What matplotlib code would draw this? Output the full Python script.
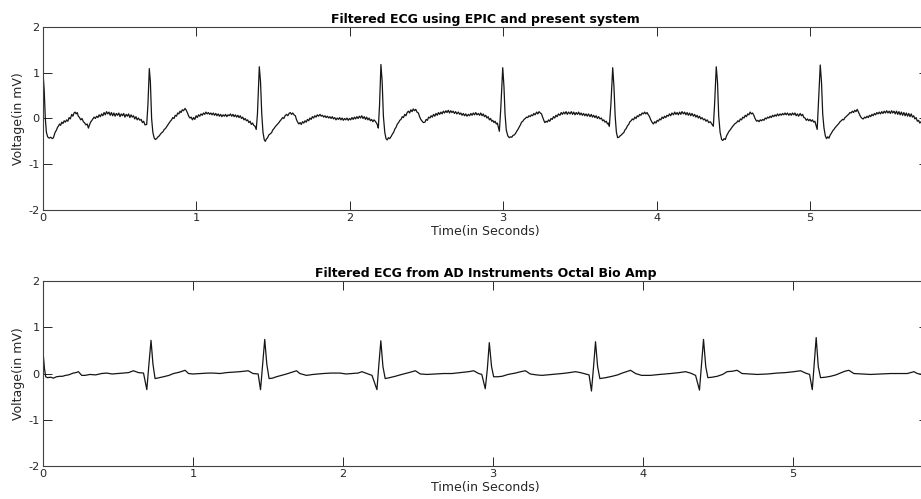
import numpy as np
import matplotlib
matplotlib.use("Agg")
import matplotlib.pyplot as plt

# ECG, (time s, voltage mV) pairs
top_time = [
    0.000, 0.008, 0.015, 0.022, 0.030, 0.040, 0.050, 0.060, 0.068, 0.078, 0.088, 0.095,
    0.100, 0.108, 0.115, 0.122, 0.130, 0.138, 0.146, 0.154, 0.162, 0.170, 0.178, 0.187,
    0.195, 0.202, 0.209, 0.216, 0.223, 0.230, 0.238, 0.246, 0.254, 0.263, 0.272, 0.280,
    0.288, 0.296, 0.303, 0.310, 0.317, 0.325, 0.333, 0.341, 0.350, 0.358, 0.366, 0.374,
    0.382, 0.390, 0.398, 0.406, 0.414, 0.422, 0.430, 0.438, 0.446, 0.454, 0.462, 0.470,
    0.478, 0.486, 0.494, 0.502, 0.510, 0.518, 0.526, 0.534, 0.542, 0.550, 0.558, 0.566,
    0.574, 0.582, 0.590, 0.598, 0.606, 0.614, 0.622, 0.632, 0.640, 0.648, 0.656, 0.665,
    0.676, 0.684, 0.693, 0.700, 0.708, 0.716, 0.724, 0.732, 0.741, 0.750, 0.758, 0.766,
    0.774, 0.782, 0.790, 0.798, 0.806, 0.814, 0.822, 0.830, 0.838, 0.846, 0.854, 0.862,
    0.870, 0.878, 0.886, 0.893, 0.900, 0.908, 0.916, 0.926, 0.934, 0.942, 0.950, 0.958,
    0.966, 0.974, 0.982, 0.990, 0.998, 1.006, 1.014, 1.022, 1.030, 1.038, 1.046, 1.054,
    1.062, 1.070, 1.078, 1.086, 1.094, 1.102, 1.110, 1.118, 1.126, 1.134, 1.142, 1.150,
    1.158, 1.166, 1.174, 1.182, 1.190, 1.198, 1.206, 1.214, 1.222, 1.230, 1.238, 1.246,
    1.254, 1.262, 1.270, 1.278, 1.286, 1.294, 1.302, 1.310, 1.318, 1.326, 1.334, 1.342,
    1.350, 1.358, 1.366, 1.374, 1.382, 1.390, 1.398, 1.410, 1.418, 1.426, 1.434, 1.442,
    1.449, 1.456, 1.464, 1.472, 1.480, 1.490, 1.498, 1.506, 1.514, 1.522, 1.530, 1.538,
    1.546, 1.554, 1.562, 1.570, 1.578, 1.588, 1.596, 1.604, 1.612, 1.620, 1.628, 1.636,
    1.645, 1.652, 1.660, 1.668, 1.676, 1.684, 1.692, 1.700, 1.708, 1.716, 1.724, 1.732,
    1.740, 1.748, 1.756, 1.764, 1.772, 1.780, 1.788, 1.796, 1.806, 1.814, 1.822, 1.830,
    1.838, 1.846, 1.854, 1.862, 1.870, 1.878, 1.886, 1.894, 1.902, 1.910, 1.918, 1.926,
    1.934, 1.942, 1.950, 1.958, 1.966, 1.974, 1.982, 1.990, 1.998, 2.006, 2.014, 2.022,
    2.030, 2.038, 2.046, 2.054, 2.062, 2.070, 2.078, 2.086, 2.094, 2.102, 2.110, 2.118,
    2.126, 2.134, 2.142, 2.150, 2.158, 2.166, 2.174, 2.180, 2.186, 2.194, 2.203, 2.211,
    2.219, 2.228, 2.236, 2.244, 2.252, 2.260, 2.270, 2.278, 2.286, 2.294, 2.302, 2.310,
    2.318, 2.326, 2.334, 2.342, 2.350, 2.358, 2.366, 2.374, 2.382, 2.390, 2.398, 2.406,
    2.414, 2.422, 2.430, 2.438, 2.447, 2.455, 2.463, 2.472, 2.480, 2.490, 2.498, 2.506,
    2.514, 2.522, 2.530, 2.538, 2.546, 2.554, 2.562, 2.570, 2.578, 2.586, 2.594, 2.602,
    2.610, 2.618, 2.626, 2.634, 2.642, 2.650, 2.658, 2.666, 2.674, 2.682, 2.690, 2.698,
    2.708, 2.716, 2.724, 2.732, 2.740, 2.748, 2.756, 2.764, 2.773, 2.781, 2.789, 2.797,
    2.805, 2.813, 2.821, 2.829, 2.838, 2.846, 2.854, 2.862, 2.870, 2.878, 2.886, 2.894,
    2.902, 2.910, 2.918, 2.925, 2.932, 2.940, 2.947, 2.955, 2.962, 2.968, 2.975, 2.984,
    2.997, 3.005, 3.012, 3.020, 3.030, 3.040, 3.048, 3.056, 3.064, 3.072, 3.080, 3.088,
    3.096, 3.104, 3.112, 3.120, 3.128, 3.136, 3.144, 3.152, 3.160, 3.168, 3.176, 3.184,
    3.192, 3.200, 3.208, 3.218, 3.226, 3.234, 3.242, 3.250, 3.258, 3.266, 3.272, 3.280,
    3.288, 3.296, 3.304, 3.312, 3.320, 3.328, 3.336, 3.344, 3.352, 3.360, 3.370, 3.378,
    3.386, 3.394, 3.402, 3.410, 3.418, 3.426, 3.436, 3.444, 3.452, 3.460, 3.468, 3.476,
    3.484, 3.492, 3.500, 3.508, 3.516, 3.524, 3.532, 3.540, 3.548, 3.556, 3.566, 3.574,
    3.582, 3.590, 3.598, 3.606, 3.614, 3.622, 3.631, 3.640, 3.648, 3.656, 3.664, 3.672,
    3.680, 3.686, 3.692, 3.702, 3.714, 3.722, 3.730, 3.738, 3.746, 3.754, 3.762, 3.770,
    3.778, 3.786, 3.794, 3.802, 3.810, 3.818, 3.826, 3.834, 3.842, 3.850, 3.858, 3.866,
    3.874, 3.882, 3.890, 3.898, 3.906, 3.914, 3.922, 3.930, 3.938, 3.946, 3.954, 3.962,
    3.970, 3.979, 3.988, 3.996, 4.004, 4.012, 4.020, 4.028, 4.036, 4.044, 4.052, 4.060,
    4.068, 4.076, 4.084, 4.092, 4.100, 4.110, 4.118, 4.126, 4.134, 4.142, 4.150, 4.158,
    4.166, 4.175, 4.183, 4.191, 4.199, 4.207, 4.215, 4.223, 4.231, 4.240, 4.248, 4.256,
    4.264, 4.272, 4.280, 4.288, 4.296, 4.306, 4.314, 4.322, 4.330, 4.340, 4.350, 4.360,
    4.370, 4.378, 4.389, 4.397, 4.405, 4.414, 4.424, 4.432, 4.440, 4.448, 4.456, 4.464,
    4.472, 4.480, 4.488, 4.496, 4.504, 4.512, 4.522, 4.530, 4.538, 4.546, 4.554, 4.562,
    4.570, 4.578, 4.586, 4.594, 4.602, 4.610, 4.618, 4.626, 4.634, 4.642, 4.652, 4.660,
    4.668, 4.676, 4.684, 4.692, 4.700, 4.708, 4.716, 4.724, 4.732, 4.740, 4.748, 4.756,
    4.764, 4.772, 4.780, 4.788, 4.796, 4.805, 4.813, 4.821, 4.829, 4.837, 4.845, 4.853,
    4.862, 4.870, 4.878, 4.886, 4.894, 4.902, 4.910, 4.918, 4.926, 4.936, 4.944, 4.952,
    4.960, 4.968, 4.976, 4.984, 4.992, 5.000, 5.008, 5.016, 5.024, 5.032, 5.040, 5.047,
    5.056, 5.067, 5.075, 5.083, 5.091, 5.100, 5.108, 5.116, 5.124, 5.132, 5.140, 5.148,
    5.156, 5.164, 5.172, 5.180, 5.188, 5.196, 5.204, 5.212, 5.220, 5.228, 5.236, 5.244,
    5.252, 5.260, 5.268, 5.276, 5.284, 5.292, 5.300, 5.308, 5.316, 5.324, 5.332, 5.340,
    5.348, 5.356, 5.364, 5.372, 5.380, 5.388, 5.396, 5.404, 5.412, 5.420, 5.428, 5.436,
    5.444, 5.452, 5.460, 5.468, 5.476, 5.484, 5.492, 5.500, 5.508, 5.516, 5.524, 5.532,
    5.540, 5.548, 5.556, 5.564, 5.572, 5.580, 5.588, 5.596, 5.604, 5.612, 5.620, 5.628,
    5.636, 5.644, 5.652, 5.660, 5.668, 5.676, 5.684, 5.692, 5.700, 5.708, 5.716, 5.724,
    5.732, 5.740, 5.760, 5.800,
]
top_volt = [
    1.00, 0.60, 0.00, -0.30, -0.40, -0.43, -0.41, -0.44, -0.42, -0.31, -0.25, -0.19,
    -0.17, -0.12, -0.15, -0.08, -0.11, -0.05, -0.08, -0.03, -0.06, 0.02, -0.01, 0.09,
    0.05, 0.12, 0.14, 0.10, 0.13, 0.05, 0.02, -0.03, 0.00, -0.07, -0.10, -0.14,
    -0.12, -0.21, -0.14, -0.08, -0.05, -0.01, 0.03, 0.00, 0.05, 0.02, 0.08, 0.04,
    0.10, 0.06, 0.13, 0.08, 0.15, 0.10, 0.14, 0.07, 0.13, 0.06, 0.12, 0.05,
    0.11, 0.07, 0.12, 0.04, 0.10, 0.06, 0.11, 0.03, 0.09, 0.05, 0.10, 0.02,
    0.08, 0.03, 0.06, -0.01, 0.04, -0.03, 0.01, -0.04, -0.02, -0.09, -0.06, -0.14,
    -0.13, 0.30, 1.09, 0.80, 0.00, -0.30, -0.42, -0.46, -0.44, -0.40, -0.38, -0.34,
    -0.31, -0.29, -0.24, -0.22, -0.18, -0.14, -0.10, -0.06, -0.03, 0.02, 0.00, 0.07,
    0.05, 0.12, 0.10, 0.16, 0.13, 0.19, 0.17, 0.22, 0.18, 0.12, 0.05, 0.01,
    0.03, -0.03, 0.02, -0.02, 0.06, 0.02, 0.08, 0.05, 0.10, 0.07, 0.12, 0.09,
    0.14, 0.10, 0.13, 0.09, 0.12, 0.08, 0.12, 0.07, 0.11, 0.06, 0.10, 0.05,
    0.09, 0.04, 0.08, 0.05, 0.09, 0.04, 0.08, 0.06, 0.10, 0.05, 0.09, 0.04,
    0.08, 0.03, 0.07, 0.02, 0.06, 0.00, 0.03, -0.03, 0.00, -0.05, -0.03, -0.09,
    -0.06, -0.13, -0.10, -0.15, -0.17, -0.24, 0.10, 1.13, 0.80, 0.10, -0.30, -0.46,
    -0.50, -0.45, -0.42, -0.36, -0.34, -0.31, -0.25, -0.22, -0.18, -0.15, -0.12, -0.09,
    -0.05, -0.02, 0.02, 0.00, 0.06, 0.09, 0.06, 0.11, 0.13, 0.09, 0.12, 0.08,
    0.06, -0.02, -0.08, -0.12, -0.09, -0.13, -0.07, -0.10, -0.05, -0.08, -0.02, -0.05,
    0.01, -0.02, 0.04, 0.01, 0.06, 0.03, 0.08, 0.05, 0.09, 0.05, 0.07, 0.03,
    0.06, 0.02, 0.05, 0.01, 0.04, 0.00, 0.04, -0.01, 0.02, -0.03, 0.01, -0.02,
    0.02, -0.03, 0.01, -0.04, 0.00, -0.03, 0.01, -0.04, 0.00, -0.03, 0.02, -0.02,
    0.03, -0.01, 0.04, 0.00, 0.05, 0.01, 0.06, 0.00, 0.04, -0.02, 0.03, -0.03,
    0.01, -0.05, -0.02, -0.07, -0.03, -0.06, -0.10, -0.14, -0.21, 0.30, 1.18, 0.80,
    0.05, -0.30, -0.44, -0.47, -0.42, -0.44, -0.39, -0.34, -0.30, -0.23, -0.19, -0.12,
    -0.09, -0.04, -0.02, 0.04, 0.02, 0.09, 0.06, 0.13, 0.16, 0.12, 0.19, 0.15,
    0.21, 0.17, 0.20, 0.14, 0.12, 0.04, -0.02, -0.06, -0.09, -0.08, -0.02, -0.04,
    0.03, 0.01, 0.06, 0.03, 0.09, 0.05, 0.11, 0.07, 0.13, 0.09, 0.14, 0.10,
    0.16, 0.12, 0.17, 0.13, 0.18, 0.12, 0.17, 0.13, 0.16, 0.11, 0.15, 0.10,
    0.14, 0.09, 0.12, 0.07, 0.11, 0.06, 0.10, 0.05, 0.09, 0.06, 0.11, 0.07,
    0.12, 0.08, 0.13, 0.08, 0.11, 0.07, 0.12, 0.06, 0.10, 0.04, 0.07, 0.01,
    0.04, -0.03, 0.00, -0.06, -0.04, -0.09, -0.06, -0.12, -0.10, -0.18, -0.28, 0.20,
    1.11, 0.70, 0.10, -0.25, -0.38, -0.42, -0.40, -0.41, -0.37, -0.36, -0.33, -0.28,
    -0.24, -0.19, -0.14, -0.08, -0.06, -0.02, 0.00, 0.03, 0.02, 0.06, 0.04, 0.08,
    0.06, 0.11, 0.08, 0.14, 0.10, 0.15, 0.12, 0.10, 0.02, -0.05, -0.09, -0.06,
    -0.08, -0.03, -0.06, 0.00, -0.02, 0.04, 0.01, 0.07, 0.04, 0.10, 0.07, 0.13,
    0.09, 0.14, 0.10, 0.15, 0.09, 0.14, 0.10, 0.15, 0.09, 0.14, 0.08, 0.13,
    0.09, 0.14, 0.08, 0.12, 0.07, 0.11, 0.06, 0.10, 0.05, 0.10, 0.04, 0.09,
    0.03, 0.07, 0.02, 0.06, 0.00, 0.04, -0.01, 0.01, -0.05, -0.03, -0.08, -0.06,
    -0.12, -0.10, -0.17, 0.30, 1.11, 0.70, 0.05, -0.30, -0.42, -0.41, -0.38, -0.36,
    -0.33, -0.31, -0.25, -0.22, -0.16, -0.13, -0.07, -0.05, -0.01, -0.03, 0.03, 0.00,
    0.06, 0.04, 0.09, 0.07, 0.12, 0.10, 0.14, 0.10, 0.13, 0.08, 0.04, -0.03,
    -0.08, -0.12, -0.07, -0.10, -0.04, -0.06, -0.01, -0.03, 0.03, 0.00, 0.05, 0.02,
    0.07, 0.05, 0.10, 0.06, 0.12, 0.08, 0.14, 0.09, 0.13, 0.08, 0.14, 0.09,
    0.15, 0.10, 0.14, 0.08, 0.13, 0.07, 0.12, 0.06, 0.11, 0.05, 0.09, 0.03,
    0.07, 0.01, 0.05, -0.01, 0.02, -0.03, -0.01, -0.06, -0.03, -0.09, -0.07, -0.12,
    -0.17, 0.30, 1.13, 0.80, 0.05, -0.30, -0.46, -0.48, -0.44, -0.46, -0.38, -0.33,
    -0.28, -0.25, -0.21, -0.17, -0.14, -0.11, -0.09, -0.05, -0.07, -0.01, -0.03, 0.03,
    0.01, 0.07, 0.04, 0.10, 0.08, 0.14, 0.10, 0.12, 0.07, 0.00, -0.06, -0.04,
    -0.07, -0.03, -0.05, -0.02, -0.04, 0.01, -0.01, 0.03, 0.01, 0.05, 0.02, 0.07,
    0.04, 0.08, 0.05, 0.10, 0.06, 0.10, 0.07, 0.11, 0.08, 0.12, 0.08, 0.12,
    0.07, 0.11, 0.07, 0.12, 0.08, 0.12, 0.06, 0.10, 0.05, 0.11, 0.06, 0.09,
    0.02, 0.01, -0.04, -0.01, -0.05, -0.02, -0.06, -0.03, -0.08, -0.06, -0.16, -0.24,
    0.40, 1.17, 0.80, 0.10, -0.20, -0.38, -0.44, -0.40, -0.43, -0.36, -0.32, -0.27,
    -0.24, -0.20, -0.17, -0.14, -0.11, -0.07, -0.05, -0.02, -0.03, 0.02, 0.04, 0.07,
    0.09, 0.13, 0.12, 0.16, 0.13, 0.18, 0.15, 0.20, 0.14, 0.08, 0.03, 0.00,
    -0.01, 0.03, 0.01, 0.05, 0.02, 0.07, 0.04, 0.09, 0.06, 0.11, 0.08, 0.13,
    0.10, 0.14, 0.10, 0.15, 0.11, 0.16, 0.12, 0.17, 0.12, 0.16, 0.11, 0.17,
    0.12, 0.16, 0.10, 0.16, 0.09, 0.15, 0.08, 0.14, 0.07, 0.13, 0.06, 0.12,
    0.05, 0.11, 0.04, 0.10, 0.03, 0.06, -0.01, 0.02, -0.06, -0.04, -0.10, -0.07,
    -0.11, -0.08, -0.10, -0.12,
]

bottom_time = [
    0.000, 0.010, 0.018, 0.030, 0.050, 0.070, 0.090, 0.113, 0.130, 0.150, 0.170, 0.202,
    0.220, 0.236, 0.258, 0.280, 0.314, 0.350, 0.390, 0.425, 0.460, 0.500, 0.536, 0.570,
    0.603, 0.636, 0.670, 0.692, 0.706, 0.720, 0.733, 0.747, 0.775, 0.803, 0.840, 0.870,
    0.910, 0.947, 0.970, 1.000, 1.050, 1.100, 1.134, 1.180, 1.223, 1.270, 1.312, 1.368,
    1.400, 1.434, 1.450, 1.464, 1.478, 1.492, 1.507, 1.530, 1.556, 1.590, 1.623, 1.660,
    1.690, 1.712, 1.756, 1.800, 1.868, 1.920, 1.980, 2.020, 2.059, 2.100, 2.126, 2.159,
    2.193, 2.226, 2.239, 2.252, 2.266, 2.281, 2.310, 2.348, 2.380, 2.415, 2.450, 2.482,
    2.515, 2.560, 2.615, 2.670, 2.726, 2.780, 2.837, 2.871, 2.904, 2.925, 2.948, 2.962,
    2.975, 2.990, 3.004, 3.030, 3.060, 3.100, 3.149, 3.185, 3.216, 3.248, 3.290, 3.326,
    3.390, 3.460, 3.510, 3.549, 3.582, 3.616, 3.640, 3.656, 3.670, 3.683, 3.697, 3.712,
    3.750, 3.794, 3.830, 3.861, 3.890, 3.917, 3.950, 3.990, 4.049, 4.110, 4.183, 4.240,
    4.283, 4.316, 4.350, 4.376, 4.390, 4.403, 4.418, 4.432, 4.460, 4.494, 4.530, 4.560,
    4.595, 4.627, 4.660, 4.710, 4.760, 4.830, 4.894, 4.950, 5.005, 5.050, 5.083, 5.110,
    5.128, 5.141, 5.154, 5.168, 5.183, 5.215, 5.250, 5.285, 5.316, 5.345, 5.372, 5.405,
    5.460, 5.516, 5.580, 5.650, 5.710, 5.761, 5.806, 5.828, 5.857, 5.890, 5.930,
]
bottom_volt = [
    0.47, 0.10, -0.07, -0.09, -0.08, -0.10, -0.07, -0.06, -0.06, -0.04, -0.03, 0.01,
    0.02, 0.04, -0.04, -0.04, -0.02, -0.03, 0.00, 0.01, -0.01, 0.00, 0.01, 0.02,
    0.06, 0.02, 0.01, -0.35, 0.20, 0.72, 0.20, -0.11, -0.09, -0.07, -0.04, 0.00,
    0.03, 0.07, 0.00, -0.01, 0.00, 0.01, 0.01, 0.00, 0.02, 0.03, 0.04, 0.06,
    0.00, -0.01, -0.35, 0.20, 0.74, 0.20, -0.11, -0.10, -0.07, -0.04, -0.01, 0.03,
    0.06, 0.00, -0.04, -0.02, 0.00, 0.01, 0.01, -0.01, 0.00, 0.01, 0.04, 0.00,
    -0.04, -0.35, 0.20, 0.71, 0.15, -0.11, -0.09, -0.06, -0.03, 0.00, 0.03, 0.06,
    -0.01, -0.02, -0.01, 0.00, 0.00, 0.02, 0.04, 0.06, 0.00, -0.02, -0.33, 0.10,
    0.67, 0.15, -0.07, -0.07, -0.06, -0.02, 0.01, 0.04, 0.06, -0.01, -0.03, -0.04,
    -0.02, 0.00, 0.02, 0.04, 0.02, -0.01, -0.03, -0.38, 0.15, 0.69, 0.15, -0.11,
    -0.09, -0.06, -0.03, 0.01, 0.04, 0.07, 0.00, -0.04, -0.04, -0.02, 0.00, 0.02,
    0.04, 0.01, -0.04, -0.36, 0.20, 0.74, 0.15, -0.09, -0.08, -0.06, -0.02, 0.04,
    0.05, 0.07, 0.00, -0.01, -0.02, -0.01, 0.01, 0.02, 0.04, 0.06, 0.01, -0.02,
    -0.35, 0.20, 0.78, 0.15, -0.09, -0.08, -0.06, -0.03, 0.01, 0.05, 0.07, 0.00,
    -0.01, -0.02, -0.01, 0.00, 0.00, 0.00, 0.04, 0.00, -0.02, -0.01, 0.00,
]

top_title = "Filtered ECG using EPIC and present system"
bottom_title = "Filtered ECG from AD Instruments Octal Bio Amp"
x_label = "Time(in Seconds)"
y_label = "Voltage(in mV)"
y_ticks = [-2, -1, 0, 1, 2]
top_xlim = 5.77
bottom_xlim = 5.90

text_col = "#262626"
plt.rcParams["font.family"] = "DejaVu Sans"
plt.rcParams["axes.unicode_minus"] = False

fig = plt.figure(figsize=(9.21, 4.99), dpi=100)
ax_top = fig.add_axes([0.0467, 0.5792, 0.961, 0.3667])
ax_bot = fig.add_axes([0.0467, 0.0667, 0.961, 0.3695])

panels = [
    (ax_top, top_time, top_volt, top_title, top_xlim),
    (ax_bot, bottom_time, bottom_volt, bottom_title, bottom_xlim),
]
for ax, t, v, title, xmax in panels:
    ax.plot(np.array(t), np.array(v), color="#151515", linewidth=0.9)
    ax.set_xlim(0, xmax)
    ax.set_ylim(-2, 2)
    ax.set_yticks(y_ticks)
    ax.set_xticks(range(0, 6))
    ax.set_title(title, fontsize=9, fontweight="bold", color="black", pad=3)
    ax.set_xlabel(x_label, fontsize=9, color=text_col, labelpad=1)
    ax.set_ylabel(y_label, fontsize=9, color=text_col, labelpad=2)
    ax.tick_params(direction="in", length=6.5, width=0.7, labelsize=8.2,
                   colors=text_col, top=True, right=True, pad=2.5)
    for s in ax.spines.values():
        s.set_color("#404040")
        s.set_linewidth(0.8)

fig.savefig("out.png", dpi=100)
